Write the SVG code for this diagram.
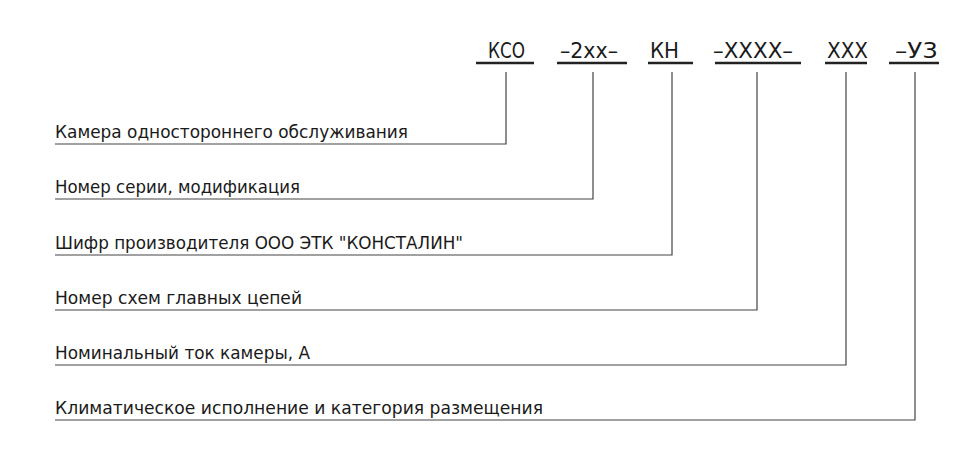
<svg xmlns="http://www.w3.org/2000/svg" width="955" height="461" viewBox="0 0 955 461">
<style>
  .code { font-family: "Liberation Sans Narrow", "DejaVu Sans Condensed", "Liberation Sans", sans-serif; font-size: 21px; fill: #1a1a1a; }
  .lbl { font-family: "Liberation Sans Narrow", "DejaVu Sans Condensed", "Liberation Sans", sans-serif; font-size: 18px; fill: #1a1a1a; }
  .ul { stroke: #222; stroke-width: 2.5; fill: none; }
  .ln { stroke: #444; stroke-width: 1.2; fill: none; }
</style>
<rect width="955" height="461" fill="#fff"/>
<g id="codes">
  <g id="code-kso"><text class="code" x="488" y="58" textLength="37" lengthAdjust="spacingAndGlyphs">КСО</text><line class="ul" x1="476" y1="63" x2="534" y2="63"/></g>
  <g id="code-2xx"><text class="code" x="560" y="58" textLength="58" lengthAdjust="spacingAndGlyphs">–2хх–</text><line class="ul" x1="557" y1="63" x2="627" y2="63"/></g>
  <g id="code-kn"><text class="code" x="650" y="58" textLength="29" lengthAdjust="spacingAndGlyphs">КН</text><line class="ul" x1="648" y1="63" x2="693" y2="63"/></g>
  <g id="code-xxxx"><text class="code" x="713" y="58" textLength="80" lengthAdjust="spacingAndGlyphs">–ХХХХ–</text><line class="ul" x1="715" y1="63" x2="801" y2="63"/></g>
  <g id="code-xxx"><text class="code" x="827" y="58" textLength="41" lengthAdjust="spacingAndGlyphs">ХХХ</text><line class="ul" x1="825" y1="63" x2="867" y2="63"/></g>
  <g id="code-u3"><text class="code" x="895" y="58" textLength="43" lengthAdjust="spacingAndGlyphs">–У3</text><line class="ul" x1="889" y1="63" x2="939" y2="63"/></g>
</g>
<g id="labels">
  <g id="lbl-1"><text class="lbl" x="55" y="138" textLength="353" lengthAdjust="spacingAndGlyphs">Камера одностороннего обслуживания</text></g>
  <g id="lbl-2"><text class="lbl" x="55" y="193" textLength="245" lengthAdjust="spacingAndGlyphs">Номер серии, модификация</text></g>
  <g id="lbl-3"><text class="lbl" x="55" y="249" textLength="408" lengthAdjust="spacingAndGlyphs">Шифр производителя ООО ЭТК "КОНСТАЛИН"</text></g>
  <g id="lbl-4"><text class="lbl" x="55" y="304" textLength="247" lengthAdjust="spacingAndGlyphs">Номер схем главных цепей</text></g>
  <g id="lbl-5"><text class="lbl" x="55" y="359" textLength="255" lengthAdjust="spacingAndGlyphs">Номинальный ток камеры, А</text></g>
  <g id="lbl-6"><text class="lbl" x="55" y="414" textLength="488" lengthAdjust="spacingAndGlyphs">Климатическое исполнение и категория размещения</text></g>
</g>
<g id="connectors">
  <polyline class="ln" points="506,72 506,144 55,144"/>
  <polyline class="ln" points="593,72 593,199 55,199"/>
  <polyline class="ln" points="672,72 672,255 55,255"/>
  <polyline class="ln" points="757,72 757,310 55,310"/>
  <polyline class="ln" points="846,72 846,365 55,365"/>
  <polyline class="ln" points="915,72 915,420 55,420"/>
</g>
</svg>
